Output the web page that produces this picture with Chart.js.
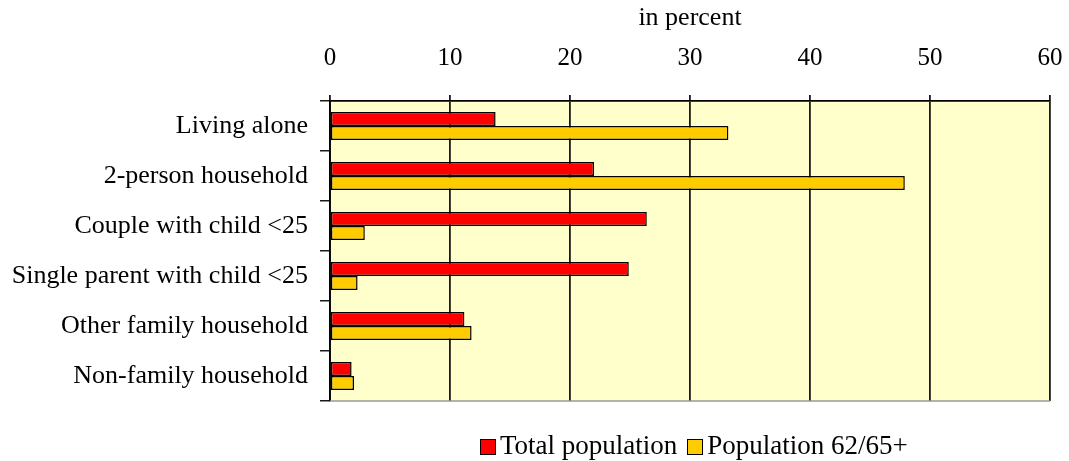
<!DOCTYPE html>
<html>
<head>
<meta charset="utf-8">
<script src="https://cdn.jsdelivr.net/npm/chart.js@4"></script>
<style>
  body { margin: 0; background: #fff; }
  #wrap { position: relative; width: 1069px; height: 461px; }
  #legend { position: absolute; left: 480px; top: 430px; font-family: "Liberation Serif", serif; font-size: 27px; line-height: 30px; color: #000; white-space: nowrap; }
  #legend span.box { display: inline-block; width: 14px; height: 14px; border: 1.5px solid #000; vertical-align: -1px; margin-right: 4px; }
  #legend span.item { margin-right: 10px; }
</style>
</head>
<body>
<div id="wrap">
  <canvas id="chart" width="1069" height="461"></canvas>
  <div id="legend"></div>
</div>
<script>
// data
const categories = ['Living alone', '2-person household', 'Couple with child <25', 'Single parent with child <25', 'Other family household', 'Non-family household']
const totalPopulation = [13.8, 22.0, 26.4, 24.9, 11.2, 1.8]
const population6265 = [33.2, 47.9, 2.9, 2.3, 11.8, 2.0]
const seriesNames = ['Total population', 'Population 62/65+']
const seriesColors = ['#ff0000', '#ffcc00']
const xTicks = [0, 10, 20, 30, 40, 50, 60]

const serif = '"Liberation Serif", "Times New Roman", serif'

// pale yellow plot background + grey bottom line
const plotBg = {
    id: 'plotBg',
    beforeDraw(chart) {
        let { ctx, chartArea } = chart
        ctx.save()
        ctx.fillStyle = '#ffffcc'
        ctx.fillRect(chartArea.left, chartArea.top, chartArea.right - chartArea.left, chartArea.bottom - chartArea.top)
        ctx.restore()
    },
    afterDraw(chart) {
        let { ctx, chartArea } = chart
        ctx.save()
        ctx.strokeStyle = '#999'
        ctx.lineWidth = 1.5
        ctx.beginPath()
        ctx.moveTo(chartArea.left, chartArea.bottom)
        ctx.lineTo(chartArea.right, chartArea.bottom)
        ctx.stroke()
        ctx.restore()
    }
}

new Chart('chart', {
    type: 'bar',
    data: {
        labels: categories,
        datasets: [
            { label: seriesNames[0], data: totalPopulation, backgroundColor: seriesColors[0] },
            { label: seriesNames[1], data: population6265, backgroundColor: seriesColors[1] }
        ]
    },
    options: {
        indexAxis: 'y',
        responsive: false,
        animation: false,
        layout: { padding: { top: 0, right: 19, bottom: 60, left: 0 } },
        datasets: {
            bar: {
                borderColor: '#000',
                borderWidth: 1.5,
                borderSkipped: false,
                categoryPercentage: 0.56,
                barPercentage: 1
            }
        },
        plugins: {
            legend: { display: false },
            tooltip: { enabled: false }
        },
        scales: {
            x: {
                position: 'top',
                min: 0,
                max: 60,
                afterBuildTicks: scale => { scale.ticks = xTicks.map(v => ({ value: v })) },
                afterFit: scale => {
                    scale.height = 101
                    scale.paddingLeft = 0
                    scale.paddingRight = 0
                },
                ticks: { color: '#000', font: { family: serif, size: 25 }, padding: 22 },
                grid: { color: '#1a1a1a', lineWidth: 1.8, tickLength: 6 },
                border: { color: '#000', width: 1.8 },
                title: { display: true, text: 'in percent', color: '#000', font: { family: serif, size: 26 }, padding: { top: 3, bottom: 0 } }
            },
            y: {
                afterFit: scale => { scale.width = 330 },
                ticks: { color: '#000', font: { family: serif, size: 26 }, padding: 12 },
                grid: { drawOnChartArea: false, color: '#1a1a1a', lineWidth: 1.5, tickLength: 10, offset: true },
                border: { color: '#000', width: 1.8 }
            }
        }
    },
    plugins: [plotBg]
})

// legend as html text
let legend = document.querySelector('#legend')
seriesNames.forEach((name, i) => {
    let item = document.createElement('span')
    item.className = 'item'
    let box = document.createElement('span')
    box.className = 'box'
    box.style.background = seriesColors[i]
    item.append(box, document.createTextNode(name))
    legend.append(item)
})
</script>
</body>
</html>
